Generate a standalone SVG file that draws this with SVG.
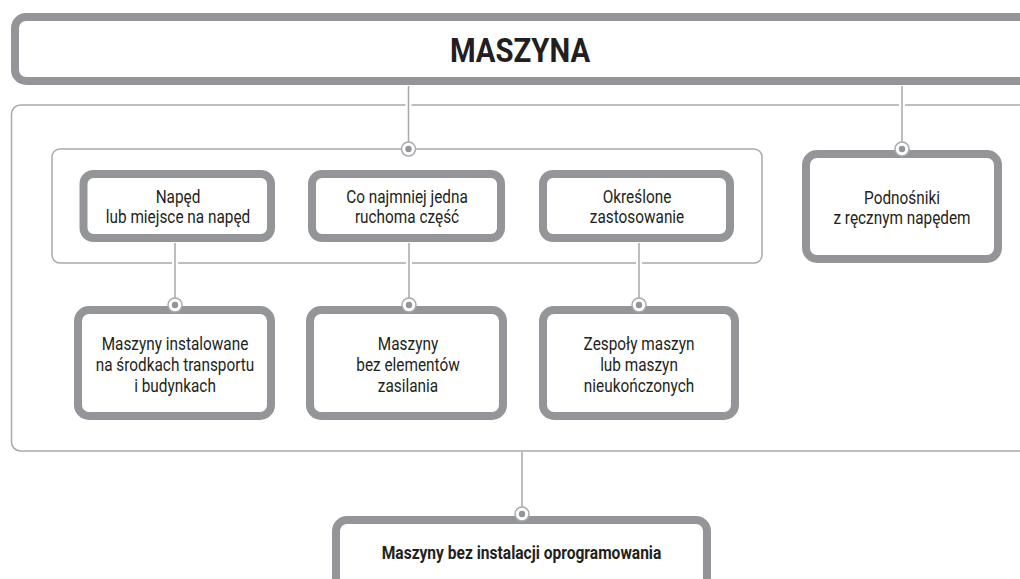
<svg xmlns="http://www.w3.org/2000/svg" width="1020" height="579" viewBox="0 0 1020 579">
<style>
.big{fill:#fff;stroke:#939598;stroke-width:8}
.frame{fill:none;stroke:#a7a9ac;stroke-width:1.5}
.ln{fill:none;stroke:#a7a9ac;stroke-width:1.5}
.halo{fill:none;stroke:#fff;stroke-width:6}
.t{font-family:Roboto,"Liberation Sans",sans-serif;font-size:18.5px;fill:#231f20;text-anchor:middle}
.tb{font-family:Roboto,"Liberation Sans",sans-serif;font-weight:bold;fill:#231f20;text-anchor:middle}
</style>
<defs>
<g id="dot"><circle r="7" fill="#fff" stroke="#a7a9ac" stroke-width="1.5"/><circle r="3.2" fill="#939598"/></g>
</defs>
<rect x="0" y="0" width="1020" height="579" fill="#fff"/>
<g id="frames">
<rect class="frame" x="11.5" y="105" width="1030" height="346" rx="9"/>
<rect class="frame" x="52" y="149" width="710" height="114" rx="8"/>
</g>
<g id="connectors">
<path class="halo" d="M408.5 86V142M902 86V142M175 243V298M409 243V298M639 243V298M522 452V507"/>
<path class="ln" d="M408.5 86V142M902 86V142M175 243V298M409 243V298M639 243V298M522 452V507"/>
</g>
<g id="n-maszyna">
<rect class="big" x="15" y="17" width="1030" height="64" rx="11"/>
<text class="tb" font-size="33.5" transform="translate(520 62) scale(0.875 1)">MASZYNA</text>
</g>
<g id="n-naped">
<rect class="big" x="83.5" y="174" width="187.5" height="64" rx="10"/>
<text class="t" transform="translate(178 203) scale(0.83 1)">Napęd</text>
<text class="t" transform="translate(178 223) scale(0.83 1)">lub miejsce na napęd</text>
</g>
<g id="n-ruchoma">
<rect class="big" x="312" y="174" width="189" height="64" rx="10"/>
<text class="t" transform="translate(407 203) scale(0.83 1)">Co najmniej jedna</text>
<text class="t" transform="translate(407 223) scale(0.83 1)">ruchoma część</text>
</g>
<g id="n-zastosowanie">
<rect class="big" x="543" y="174" width="187" height="64" rx="10"/>
<text class="t" transform="translate(637 203) scale(0.83 1)">Określone</text>
<text class="t" transform="translate(637 223) scale(0.83 1)">zastosowanie</text>
</g>
<g id="n-podnosniki">
<rect class="big" x="806" y="154" width="192" height="105" rx="11"/>
<text class="t" transform="translate(902 204) scale(0.83 1)">Podnośniki</text>
<text class="t" transform="translate(902 224) scale(0.83 1)">z ręcznym napędem</text>
</g>
<g id="n-transport">
<rect class="big" x="78" y="310" width="193" height="106" rx="11"/>
<text class="t" transform="translate(175 350) scale(0.83 1)">Maszyny instalowane</text>
<text class="t" transform="translate(175 371) scale(0.83 1)">na środkach transportu</text>
<text class="t" transform="translate(175 392) scale(0.83 1)">i budynkach</text>
</g>
<g id="n-zasilanie">
<rect class="big" x="310" y="310" width="193" height="106" rx="11"/>
<text class="t" transform="translate(408 350) scale(0.83 1)">Maszyny</text>
<text class="t" transform="translate(408 371) scale(0.83 1)">bez elementów</text>
<text class="t" transform="translate(408 392) scale(0.83 1)">zasilania</text>
</g>
<g id="n-zespoly">
<rect class="big" x="543" y="310" width="192" height="106" rx="11"/>
<text class="t" transform="translate(639 350) scale(0.83 1)">Zespoły maszyn</text>
<text class="t" transform="translate(639 371) scale(0.83 1)">lub maszyn</text>
<text class="t" transform="translate(639 392) scale(0.83 1)">nieukończonych</text>
</g>
<g id="n-oprogramowanie">
<rect class="big" x="336" y="520" width="371" height="80" rx="11"/>
<text class="tb" font-size="18" transform="translate(521.5 559) scale(0.865 1)">Maszyny bez instalacji oprogramowania</text>
</g>
<g id="markers">
<use href="#dot" x="408.5" y="149"/>
<use href="#dot" x="902" y="149"/>
<use href="#dot" x="175" y="305"/>
<use href="#dot" x="409" y="305"/>
<use href="#dot" x="639" y="305"/>
<use href="#dot" x="522" y="514"/>
</g>
</svg>
